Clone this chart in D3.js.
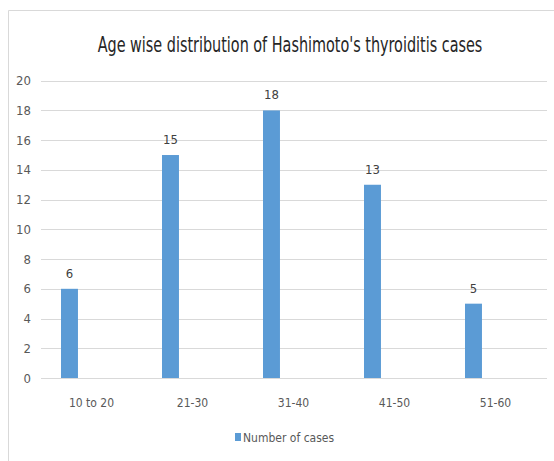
<!DOCTYPE html>
<html>
<head>
<meta charset="utf-8">
<script src="https://cdn.jsdelivr.net/npm/d3@7"></script>
<style>
  body { margin: 0; background: #fff; }
  text { font-family: "Liberation Sans Narrow", "DejaVu Sans Condensed", sans-serif; }
</style>
</head>
<body>
<div id="chart"></div>
<script>
const ageGroups = ["10 to 20", "21-30", "31-40", "41-50", "51-60"];
const cases = [6, 15, 18, 13, 5];
const yTicks = [0, 2, 4, 6, 8, 10, 12, 14, 16, 18, 20];
const seriesName = "Number of cases";
const chartTitle = "Age wise distribution of Hashimoto's thyroiditis cases";

const width = 554, height = 461;
const svg = d3.select('#chart').append('svg')
    .attr('width', width)
    .attr('height', height);

// outer frame (cropped on the right and bottom)
svg.append('path')
    .attr('d', 'M8.5,' + height + 'V10.5H' + width)
    .attr('fill', 'none')
    .attr('stroke', '#d9d9d9')
    .attr('stroke-width', 1);

const x = d3.scaleBand()
    .domain(ageGroups)
    .range([41, 546]);

const y = d3.scaleLinear()
    .domain([0, 20])
    .range([378, 80.7]);

// gridlines
svg.append('g')
    .selectAll('line')
    .data(yTicks)
    .enter()
    .append('line')
    .attr('x1', 41)
    .attr('x2', 547)
    .attr('y1', d => Math.round(y(d)) + 0.5)
    .attr('y2', d => Math.round(y(d)) + 0.5)
    .attr('stroke', '#d9d9d9')
    .attr('stroke-width', 1);

// y tick labels
svg.append('g')
    .selectAll('text')
    .data(yTicks)
    .enter()
    .append('text')
    .attr('x', 31)
    .attr('y', d => y(d) + 4.5)
    .attr('text-anchor', 'end')
    .attr('font-size', 13)
    .attr('fill', '#595959')
    .text(d => d);

const barOffset = x.bandwidth() * 0.198;
const barWidth = x.bandwidth() * 0.168;

// bars
svg.append('g')
    .selectAll('rect')
    .data(cases)
    .enter()
    .append('rect')
    .attr('x', (d, i) => x(ageGroups[i]) + barOffset)
    .attr('y', d => y(d))
    .attr('width', barWidth)
    .attr('height', d => y(0) - y(d))
    .attr('fill', '#5b9bd5');

// data labels
svg.append('g')
    .selectAll('text')
    .data(cases)
    .enter()
    .append('text')
    .attr('x', (d, i) => x(ageGroups[i]) + barOffset + barWidth / 2)
    .attr('y', d => y(d) - 11)
    .attr('text-anchor', 'middle')
    .attr('font-size', 13)
    .attr('fill', '#404040')
    .text(d => d);

// category labels
svg.append('g')
    .selectAll('text')
    .data(ageGroups)
    .enter()
    .append('text')
    .attr('x', d => x(d) + x.bandwidth() / 2)
    .attr('y', 407)
    .attr('text-anchor', 'middle')
    .attr('font-size', 12)
    .attr('fill', '#595959')
    .text(d => d);

// title, squeezed horizontally to match the narrow original face
const title = svg.append('g')
    .attr('transform', 'translate(290,52)')
    .append('text')
    .attr('text-anchor', 'middle')
    .attr('font-size', 21)
    .attr('fill', '#262626')
    .text(chartTitle);
const titleW = title.node().getComputedTextLength();
title.attr('transform', 'scale(' + Math.min(1, 385 / titleW) + ',1)');

// legend
svg.append('rect')
    .attr('x', 235)
    .attr('y', 433)
    .attr('width', 6)
    .attr('height', 8)
    .attr('fill', '#5b9bd5');

svg.append('text')
    .attr('x', 243)
    .attr('y', 441.5)
    .attr('font-size', 12)
    .attr('fill', '#595959')
    .text(seriesName);
</script>
</body>
</html>
